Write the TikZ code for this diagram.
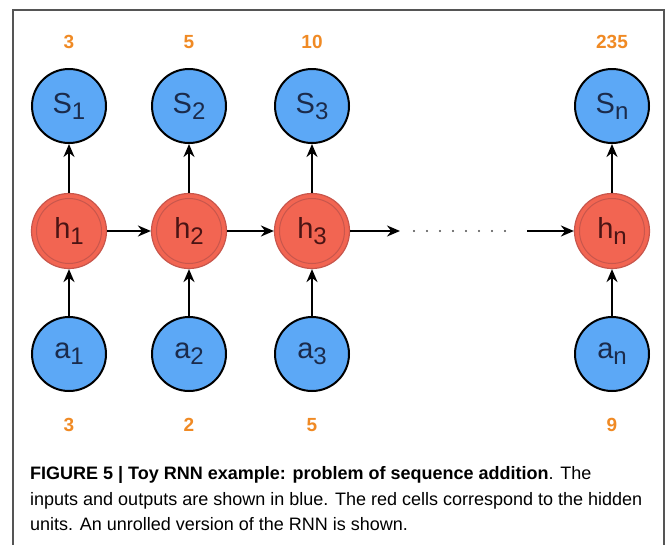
\documentclass[tikz,border=0pt]{standalone}
\usepackage{fontspec}
\setmainfont{Liberation Sans}
\usetikzlibrary{arrows.meta}
\definecolor{blu}{HTML}{5CA8F6}
\definecolor{rd}{HTML}{F26552}
\definecolor{rdline}{HTML}{C8564C}
\definecolor{org}{HTML}{F08A24}
\definecolor{navy}{HTML}{1B2B4B}
\definecolor{brn}{HTML}{4A1414}
\definecolor{frm}{HTML}{555555}
\newcommand\lblsub[1]{\raisebox{-6pt}{\fontsize{24}{24}\selectfont #1}}
\begin{document}
\begin{tikzpicture}[x=1pt,y=-1pt,
  io/.style={circle, draw=black, line width=2pt, fill=blu, minimum size=74pt, inner sep=0pt, text=navy, font=\fontsize{29}{29}\selectfont},
  hid/.style={circle, draw=rdline, line width=1.2pt, fill=rd, minimum size=75pt, inner sep=0pt, text=brn, font=\fontsize{29}{29}\selectfont,
    path picture={\draw[rdline, line width=1pt] (path picture bounding box.center) circle (32.5pt);}},
  val/.style={text=org, font=\fontsize{19}{19}\selectfont\bfseries, inner sep=0pt},
  arr/.style={-{Stealth[length=13pt,width=11pt]}, line width=2pt},
  captext/.style={anchor=base west, font=\fontsize{18}{18}\selectfont, inner sep=0pt}]
\useasboundingbox[fill=white] (0,0) rectangle (669,544);
\draw[frm, line width=1.2pt] (13,560) -- (13,10) -- (664,10) -- (664,560);
% outputs
\node[io] (s1) at (69,106) {S\lblsub{1}};
\node[io] (s2) at (189,106) {S\lblsub{2}};
\node[io] (s3) at (312,106) {S\lblsub{3}};
\node[io] (sn) at (612,106) {S\lblsub{n}};
% hidden
\node[hid] (h1) at (69,231) {h\lblsub{1}};
\node[hid] (h2) at (189,231) {h\lblsub{2}};
\node[hid] (h3) at (312,231) {h\lblsub{3}};
\node[hid] (hn) at (612,231) {h\lblsub{n}};
% inputs
\node[io] (a1) at (69,354) {a\lblsub{1}};
\node[io] (a2) at (189,354) {a\lblsub{2}};
\node[io] (a3) at (312,354) {a\lblsub{3}};
\node[io] (an) at (612,354) {a\lblsub{n}};
% values
\node[val] (o1) at (69,42) {3};
\node[val] (o2) at (189,42) {5};
\node[val] (o3) at (312,42) {10};
\node[val] (on) at (612,42) {235};
\node[val] (i1) at (69,425) {3};
\node[val] (i2) at (189,425) {2};
\node[val] (i3) at (312,425) {5};
\node[val] (in) at (612,425) {9};
% connectors
\foreach \c in {1,2,3,n}{
  \draw[arr] (a\c) -- (h\c);
  \draw[arr] (h\c) -- (s\c);
}
\draw[arr] (h1) -- (h2);
\draw[arr] (h2) -- (h3);
\coordinate (d1) at (400,231);
\coordinate (d2) at (527,231);
\draw[arr] (h3) -- (d1);
\draw[arr] (d2) -- (hn);
\foreach \i in {0,...,7} \fill[black!70] (414+13*\i,231) circle (1.2pt);
% caption
\node[captext] (c1) at (30,479) {\textbf{FIGURE 5 | Toy RNN example: problem of sequence addition}. The};
\node[captext] (c2) at (30,505) {inputs and outputs are shown in blue. The red cells correspond to the hidden};
\node[captext] (c3) at (30,530) {units. An unrolled version of the RNN is shown.};
\end{tikzpicture}
\end{document}
